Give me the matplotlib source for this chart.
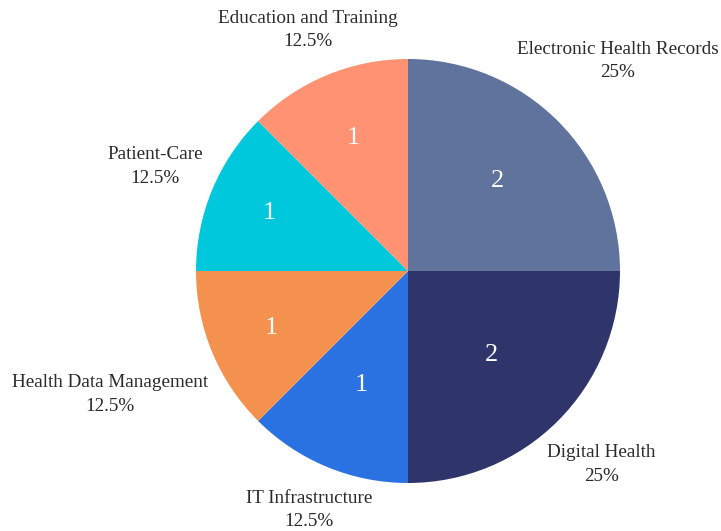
import matplotlib
matplotlib.use("Agg")
import matplotlib.pyplot as plt
import numpy as np

# slices in clockwise order starting at 12 o'clock
categories = ["Electronic Health Records", "Digital Health", "IT Infrastructure",
              "Health Data Management", "Patient-Care", "Education and Training"]
counts = [2, 2, 1, 1, 1, 1]
colors = ["#60739c", "#2f346a", "#2a72e1", "#f5914f", "#00c8dc", "#fe9272"]

# label layout (radial distance as fraction of radius)
label_dist = [1.40, 1.29, 1.22, 1.52, 1.29, 1.23]
count_dist = [0.60, 0.56, 0.58, 0.70, 0.71, 0.68]

plt.rcParams["font.family"] = ["Liberation Serif", "DejaVu Serif"]
fig = plt.figure(figsize=(7.21, 5.31), dpi=100)
ax = fig.add_axes([0, 0, 1, 1])
ax.axis("off")

wedges, _ = ax.pie(counts, colors=colors, startangle=90, counterclock=False,
                   radius=1.0, wedgeprops=dict(linewidth=0))

total = sum(counts)
for w, name, n, ld, cd in zip(wedges, categories, counts, label_dist, count_dist):
    mid = np.deg2rad((w.theta1 + w.theta2) / 2)
    c, s = np.cos(mid), np.sin(mid)
    ax.text(cd * c, cd * s, str(n), ha="center", va="center",
            color="white", fontsize=19)
    pct = f"{100 * n / total:g}%"
    ax.text(ld * c, ld * s, f"{name}\n{pct}", ha="center", va="center",
            color="#2a2a2a", fontsize=13.8, linespacing=1.5)

# centre at (408, 271) px, radius 212 px
ax.set_xlim(-408 / 212, (721 - 408) / 212)
ax.set_ylim(-(531 - 271) / 212, 271 / 212)
ax.set_aspect("auto")

fig.savefig("out.png", dpi=100, facecolor="white")
